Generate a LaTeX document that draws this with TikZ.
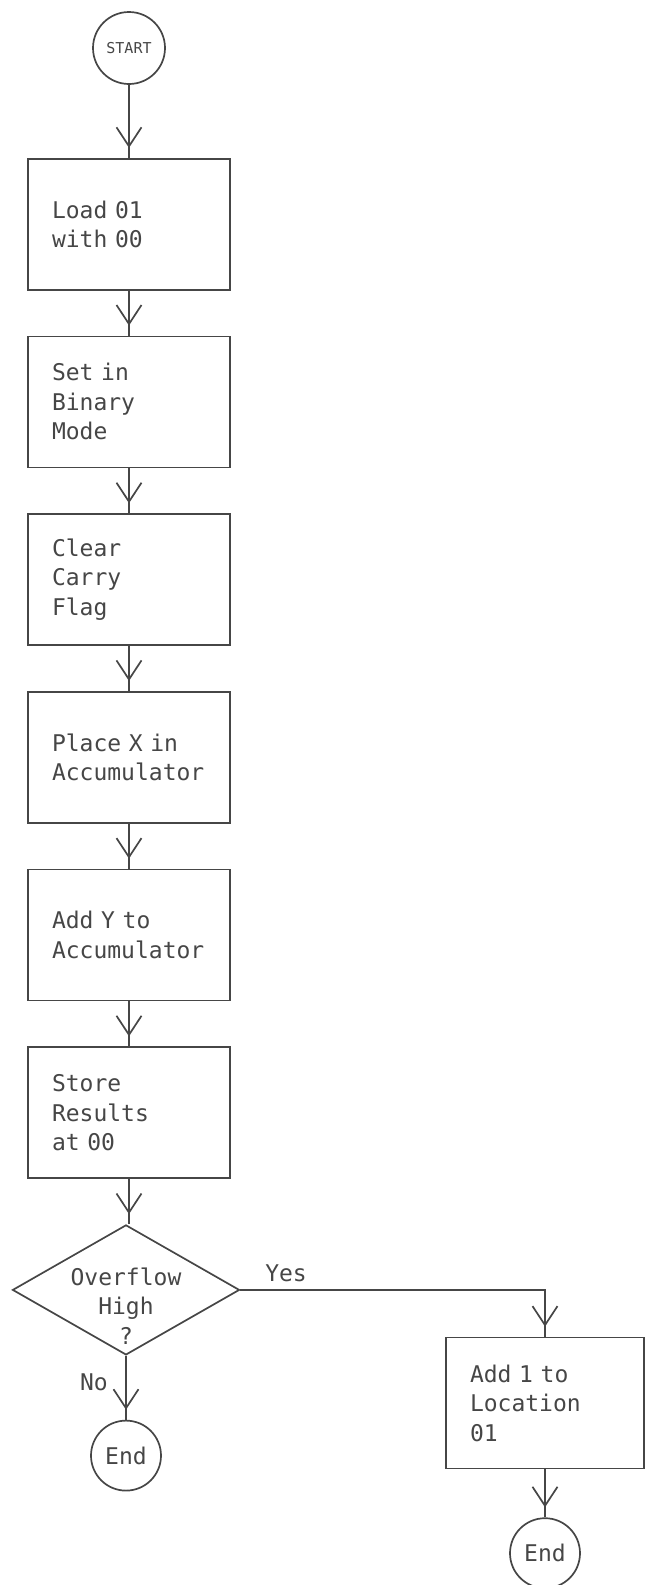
\documentclass[tikz,border=0pt]{standalone}
\usepackage{fontspec}
\setmonofont{DejaVu Sans Mono}
\usetikzlibrary{positioning,shapes.geometric,arrows.meta,decorations.markings}
\definecolor{inkgray}{RGB}{70, 70, 70}
\tikzset{
  procbox/.style={draw=inkgray, rectangle, text width=154pt, inner xsep=24pt, inner ysep=0pt, minimum height=131pt, align=left},
  termnode/.style={draw=inkgray, circle, minimum size=70pt, inner sep=0pt},
  decision/.style={draw=inkgray, diamond, minimum width=227pt, minimum height=130pt, inner sep=0pt},
  flow/.style={draw=inkgray, postaction={decorate}, decoration={markings, mark=at position -10pt with {\arrow{Straight Barb[length=19pt, width=25pt]}}}}
}

\begin{document}
\begin{tikzpicture}[x=1pt, y=-1pt, node distance=45pt, color=inkgray, line width=1.7pt, font=\ttfamily\fontsize{23}{29.5}\selectfont]
  \useasboundingbox (0,0) rectangle (645,1585);
  \node [termnode, minimum size=72pt, font=\ttfamily\fontsize{15}{18}\selectfont] (start) at (129,48) {START};
  \node [procbox, below=73pt of start] (load) {Load 01\\with 00};
  \node [procbox, below=of load] (binary) {Set in\\Binary\\Mode};
  \node [procbox, below=of binary] (clear) {Clear\\Carry\\Flag};
  \node [procbox, below=of clear] (placex) {Place X in\\Accumulator};
  \node [procbox, below=of placex] (addy) {Add Y to\\Accumulator};
  \node [procbox, below=of addy] (store) {Store\\Results\\at 00};
  \node [decision, below=of store, xshift=-3pt] (overflow) {};
  \node [align=center] (ovftext) at ([yshift=-16pt]overflow.center) {Overflow\\High\\?};
  \node [termnode, below=64pt of overflow] (endno) {End};
  \node [procbox, text width=150pt] (addone) at (545,1403) {Add 1 to\\Location\\01};
  \node [termnode, below=48pt of addone] (endyes) {End};

  \draw [flow] (start) -- (load);
  \draw [flow] (load) -- (binary);
  \draw [flow] (binary) -- (clear);
  \draw [flow] (clear) -- (placex);
  \draw [flow] (placex) -- (addy);
  \draw [flow] (addy) -- (store);
  \draw [flow] (store) -- (store |- overflow.north);
  \draw [flow] (overflow) -- node [pos=0.42, left=14pt] {No} (endno);
  \draw [flow] (overflow.east) -| node [pos=0.075, above=4pt] {Yes} (addone.north);
  \draw [flow] (addone) -- (endyes);
\end{tikzpicture}
\end{document}
